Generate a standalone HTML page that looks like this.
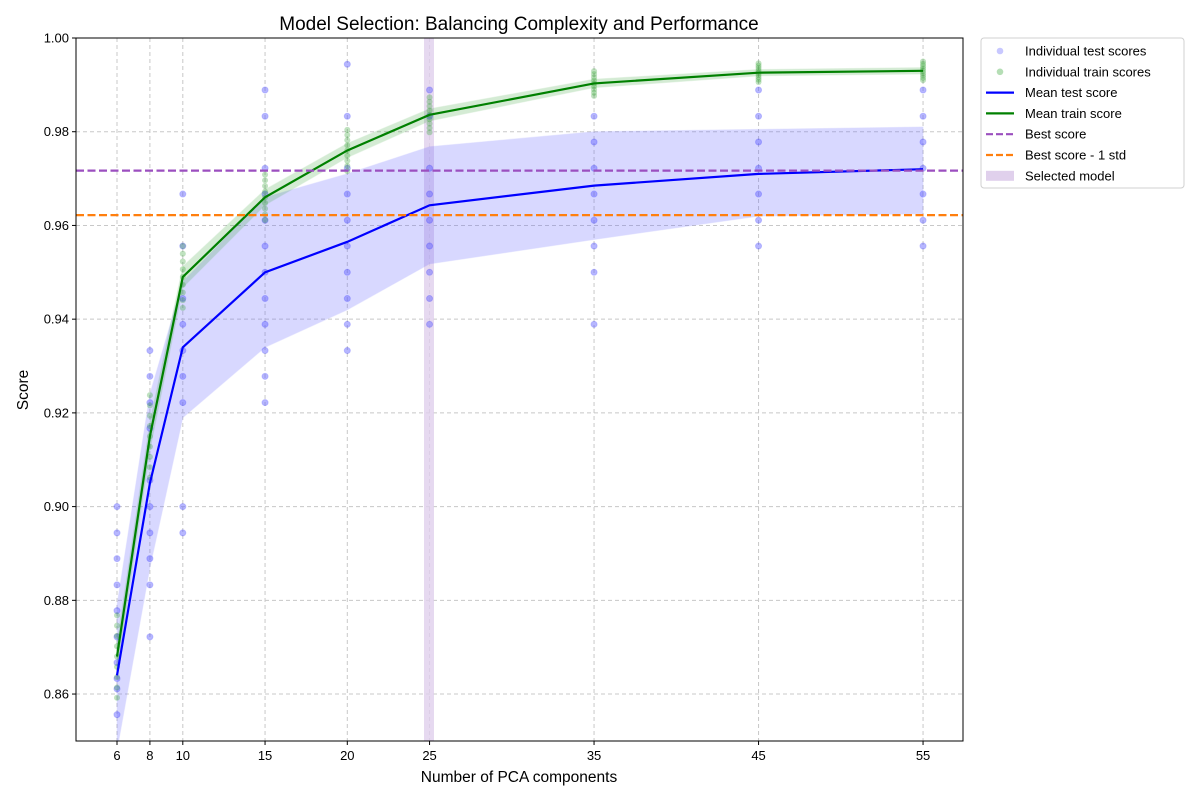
<!DOCTYPE html>
<html><head><meta charset="utf-8"><style>
body{margin:0;background:#fff;}
svg text{font-family:"Liberation Sans",sans-serif;}
</style></head><body>
<svg id="c" width="1200" height="800" xmlns="http://www.w3.org/2000/svg"></svg>
<script>
const s=document.getElementById('c');let h='';
const X=v=>117+(v-6)*16.45, Y=v=>38+(1-v)*4686;
const xs=[6,8,10,15,20,25,35,45,55];
h+='<defs><clipPath id="cp"><rect x="76" y="38" width="887" height="703"/></clipPath></defs>';
h+='<rect x="76" y="38" width="887" height="703" fill="#fff"/>';
h+='<g clip-path="url(#cp)">';
for(const v of xs)h+=`<line x1="${X(v)}" x2="${X(v)}" y1="38" y2="741" stroke="#c8c8c8" stroke-dasharray="4,3"/>`;
for(let v=0.86;v<1.0;v+=0.02)h+=`<line x1="76" x2="963" y1="${Y(v)}" y2="${Y(v)}" stroke="#c8c8c8" stroke-dasharray="4,3"/>`;
h+=`<rect x="424" y="38" width="10" height="703" fill="#e0d0ec" opacity="0.8"/>`;
const band=(up,lo,fill,op)=>{let p=xs.map((v,i)=>X(v)+','+Y(up[i])).join(' ')+' '+xs.map((v,i)=>X(v)+','+Y(lo[i])).reverse().join(' ');return `<polygon points="${p}" fill="${fill}" opacity="${op}" stroke="${fill}" stroke-opacity="0.5"/>`;};
const tm=[0.864,0.905,0.934,0.950,0.9565,0.9643,0.9685,0.971,0.972];
const tu=[0.879,0.924,0.948,0.966,0.971,0.9768,0.980,0.9805,0.981];
const tl=[0.848,0.887,0.919,0.934,0.942,0.9518,0.957,0.962,0.9625];
const rm=[0.868,0.915,0.949,0.966,0.976,0.9836,0.9903,0.9926,0.993];
const rw=[0.004,0.004,0.003,0.0022,0.002,0.0017,0.0012,0.0009,0.0009];
h+=band(tu,tl,'#6666ff',0.25);
h+=band(rm.map((v,i)=>v+rw[i]*0.75),rm.map((v,i)=>v-rw[i]*0.75),'#2ca02c',0.2);
const tp={6:[0.9,0.8944,0.8889,0.8833,0.8778,0.8722,0.8667,0.8611,0.8556,0.8633],8:[0.9333,0.9278,0.9222,0.9167,0.9056,0.9,0.8944,0.8889,0.8833,0.8722],10:[0.9667,0.9556,0.9444,0.9389,0.9333,0.9278,0.9222,0.9,0.8944],15:[0.9889,0.9833,0.9722,0.9667,0.9611,0.9556,0.95,0.9444,0.9389,0.9333,0.9278,0.9222],20:[0.9944,0.9833,0.9722,0.9667,0.9611,0.9556,0.95,0.9444,0.9389,0.9333],25:[0.9889,0.9833,0.9722,0.9667,0.9611,0.9556,0.95,0.9444,0.9389],35:[0.9833,0.9778,0.9722,0.9667,0.9611,0.9556,0.95,0.9389],45:[0.9889,0.9833,0.9778,0.9722,0.9667,0.9611,0.9556],55:[0.9889,0.9833,0.9778,0.9722,0.9667,0.9611,0.9556]};
for(const k in tp)for(const v of tp[k])h+=`<circle cx="${X(+k)}" cy="${Y(v)}" r="3" fill="#6060ff" opacity="0.45" stroke="#0000ff" stroke-opacity="0.5"/>`;
xs.forEach((v,i)=>{for(let j=-4;j<=4;j++)h+=`<circle cx="${X(v)}" cy="${Y(rm[i]+j*rw[i]*0.55)}" r="3" fill="#2ca02c" opacity="0.3"/>`;});
const line=(d,c,w)=>`<polyline points="${xs.map((v,i)=>X(v)+','+Y(d[i])).join(' ')}" fill="none" stroke="${c}" stroke-width="${w}"/>`;
h+=line(tm,'#0000ff',2.2);
h+=line(rm,'#008000',2.2);
h+=`<line x1="76" x2="963" y1="${Y(0.9717)}" y2="${Y(0.9717)}" stroke="#9b4fbf" stroke-width="2.2" stroke-dasharray="8,3.5"/>`;
h+=`<line x1="76" x2="963" y1="${Y(0.9622)}" y2="${Y(0.9622)}" stroke="#ff7f0e" stroke-width="2.2" stroke-dasharray="8,3.5"/>`;
h+='</g>';
h+='<rect x="76" y="38" width="887" height="703" fill="none" stroke="#000" stroke-width="1"/>';
for(const v of xs)h+=`<line x1="${X(v)}" x2="${X(v)}" y1="741" y2="745" stroke="#000"/><text x="${X(v)}" y="760" font-size="13" text-anchor="middle">${v}</text>`;
for(let i=0;i<=7;i++){const v=0.86+i*0.02;h+=`<line x1="72" x2="76" y1="${Y(v)}" y2="${Y(v)}" stroke="#000"/><text x="69" y="${Y(v)+4.5}" font-size="13" text-anchor="end">${v.toFixed(2)}</text>`;}
h+='<text x="519" y="30" font-size="19" text-anchor="middle">Model Selection: Balancing Complexity and Performance</text>';
h+='<text x="519" y="782" font-size="15.5" text-anchor="middle">Number of PCA components</text>';
h+='<text transform="translate(28,390) rotate(-90)" font-size="15.5" text-anchor="middle">Score</text>';
h+='<rect x="981" y="38" width="203" height="150" rx="3" fill="#fff" stroke="#d0d0d0"/>';
const L=[['Individual test scores','c','#6060ff'],['Individual train scores','c','#2ca02c'],['Mean test score','l','#0000ff'],['Mean train score','l','#008000'],['Best score','d','#9b4fbf'],['Best score - 1 std','d','#ff7f0e'],['Selected model','r','#e0d0ec']];
L.forEach((e,i)=>{const y=51+i*20.8;
if(e[1]=='c')h+=`<circle cx="1000" cy="${y}" r="3.3" fill="${e[2]}" opacity="0.35"/>`;
else if(e[1]=='l')h+=`<line x1="986" x2="1014" y1="${y}" y2="${y}" stroke="${e[2]}" stroke-width="2.2"/>`;
else if(e[1]=='d')h+=`<line x1="986" x2="1014" y1="${y}" y2="${y}" stroke="${e[2]}" stroke-width="2.2" stroke-dasharray="7,3"/>`;
else h+=`<rect x="986" y="${y-5}" width="28" height="10" fill="${e[2]}"/>`;
h+=`<text x="1025" y="${y+4.5}" font-size="13">${e[0]}</text>`;});
s.innerHTML=h;
</script>
</body></html>
